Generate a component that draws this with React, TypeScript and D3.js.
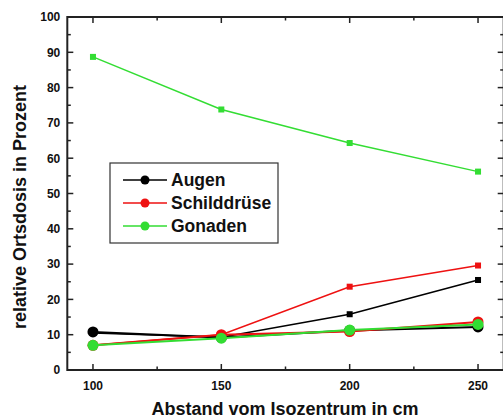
import React, { useEffect, useRef } from 'react';
import * as d3 from 'd3';

const distances = [100, 150, 200, 250];

// circle series (shown in legend)
const augenCircle = [10.8, 9.2, 11.2, 12.2];
const schildCircle = [7.0, 10.0, 10.9, 13.6];
const gonadenCircle = [7.0, 9.0, 11.3, 12.9];

// square series
const augenSquare = [10.5, 9.3, 15.8, 25.5];
const schildSquare = [7.0, 10.0, 23.6, 29.6];
const gonadenSquare = [88.7, 73.8, 64.3, 56.2];

const xTicks = [100, 150, 200, 250];
const yTicks = [0, 10, 20, 30, 40, 50, 60, 70, 80, 90, 100];

const W = 503;
const H = 418;
const FONT = '"Liberation Sans", Arial, sans-serif';

const App = () => {
  const svgRef = useRef(null);

  useEffect(() => {
    const svg = d3.select(svgRef.current);
    svg.selectAll('*').remove();

    const x = d3.scaleLinear().domain([90, 260]).range([67.3, 503.7]);
    const y = d3.scaleLinear().domain([0, 100]).range([370, 17]);
    const [x0, x1] = x.range();
    const [y0, y1] = y.range();

    const g = svg.append('g');

    // frame
    g.append('rect')
      .attr('x', x0).attr('y', y1)
      .attr('width', x1 - x0).attr('height', y0 - y1)
      .attr('fill', 'none').attr('stroke', '#222').attr('stroke-width', 2);

    // ticks (inward)
    const majorLen = 6;
    const minorLen = 3.5;
    const xMinor = d3.range(100, 260, 25).filter(v => v % 50 !== 0);
    const yMinor = d3.range(5, 100, 10);
    const tickG = g.append('g').attr('stroke', '#222').attr('stroke-width', 1.5);
    xTicks.forEach(v => {
      tickG.append('line').attr('x1', x(v)).attr('x2', x(v)).attr('y1', y0).attr('y2', y0 - majorLen);
      tickG.append('line').attr('x1', x(v)).attr('x2', x(v)).attr('y1', y1).attr('y2', y1 + majorLen);
    });
    xMinor.forEach(v => {
      tickG.append('line').attr('x1', x(v)).attr('x2', x(v)).attr('y1', y0).attr('y2', y0 - minorLen);
      tickG.append('line').attr('x1', x(v)).attr('x2', x(v)).attr('y1', y1).attr('y2', y1 + minorLen);
    });
    yTicks.forEach(v => {
      tickG.append('line').attr('x1', x0).attr('x2', x0 + majorLen).attr('y1', y(v)).attr('y2', y(v));
      tickG.append('line').attr('x1', x1).attr('x2', x1 - majorLen).attr('y1', y(v)).attr('y2', y(v));
    });
    yMinor.forEach(v => {
      tickG.append('line').attr('x1', x0).attr('x2', x0 + minorLen).attr('y1', y(v)).attr('y2', y(v));
      tickG.append('line').attr('x1', x1).attr('x2', x1 - minorLen).attr('y1', y(v)).attr('y2', y(v));
    });

    // tick labels
    g.selectAll('.xl').data(xTicks).enter().append('text')
      .attr('x', d => x(d)).attr('y', y0 + 20)
      .attr('text-anchor', 'middle')
      .style('font-family', FONT).style('font-weight', 'bold').style('font-size', '12px')
      .attr('fill', '#111')
      .text(d => d);
    g.selectAll('.yl').data(yTicks).enter().append('text')
      .attr('x', x0 - 7).attr('y', d => y(d))
      .attr('dy', '0.36em')
      .attr('text-anchor', 'end')
      .style('font-family', FONT).style('font-weight', 'bold').style('font-size', '12px')
      .attr('fill', '#111')
      .text(d => d);

    // axis titles
    g.append('text')
      .attr('x', 285).attr('y', 415)
      .attr('text-anchor', 'middle')
      .style('font-family', FONT).style('font-weight', 'bold').style('font-size', '18px')
      .attr('fill', '#111')
      .text('Abstand vom Isozentrum in cm');
    g.append('text')
      .attr('transform', 'translate(26,207) rotate(-90)')
      .attr('text-anchor', 'middle')
      .style('font-family', FONT).style('font-weight', 'bold').style('font-size', '18px')
      .attr('fill', '#111')
      .text('relative Ortsdosis in Prozent');

    const line = d3.line<number>()
      .x((d, i) => x(distances[i]))
      .y(d => y(d));

    const squareSeries = [
      { values: gonadenSquare, color: '#33dd33' },
      { values: augenSquare, color: '#000000' },
      { values: schildSquare, color: '#ee1111' },
    ];
    squareSeries.forEach(s => {
      g.append('path').datum(s.values)
        .attr('d', line)
        .attr('fill', 'none').attr('stroke', s.color).attr('stroke-width', 1.5);
      g.selectAll(null).data(s.values).enter().append('rect')
        .attr('x', (d, i) => x(distances[i]) - 3)
        .attr('y', d => y(d) - 3)
        .attr('width', 6).attr('height', 6)
        .attr('fill', s.color);
    });

    const circleSeries = [
      { name: 'Augen', values: augenCircle, color: '#000000' },
      { name: 'Schilddrüse', values: schildCircle, color: '#ee1111' },
      { name: 'Gonaden', values: gonadenCircle, color: '#33dd33' },
    ];
    circleSeries.forEach(s => {
      g.append('path').datum(s.values)
        .attr('d', line)
        .attr('fill', 'none').attr('stroke', s.color).attr('stroke-width', 2);
      g.selectAll(null).data(s.values).enter().append('circle')
        .attr('cx', (d, i) => x(distances[i]))
        .attr('cy', d => y(d))
        .attr('r', 5.5)
        .attr('fill', s.color);
    });

    // legend
    const lg = g.append('g');
    lg.append('rect')
      .attr('x', 110).attr('y', 163).attr('width', 168).attr('height', 80)
      .attr('fill', 'white').attr('stroke', '#333').attr('stroke-width', 1.2);
    circleSeries.forEach((s, i) => {
      const ly = 180 + i * 23;
      lg.append('line').attr('x1', 123).attr('x2', 167).attr('y1', ly).attr('y2', ly)
        .attr('stroke', s.color).attr('stroke-width', 1.5);
      lg.append('circle').attr('cx', 145).attr('cy', ly).attr('r', 4.5).attr('fill', s.color);
      lg.append('text').attr('x', 171).attr('y', ly).attr('dy', '0.36em')
        .style('font-family', FONT).style('font-weight', 'bold').style('font-size', '17.5px')
        .attr('fill', '#111')
        .text(s.name);
    });

    return () => { svg.selectAll('*').remove(); };
  }, []);

  return (
    <svg ref={svgRef} width={W} height={H}
      style={{ position: 'absolute', left: 0, top: 0, background: 'white' }}></svg>
  );
};

export default App;
